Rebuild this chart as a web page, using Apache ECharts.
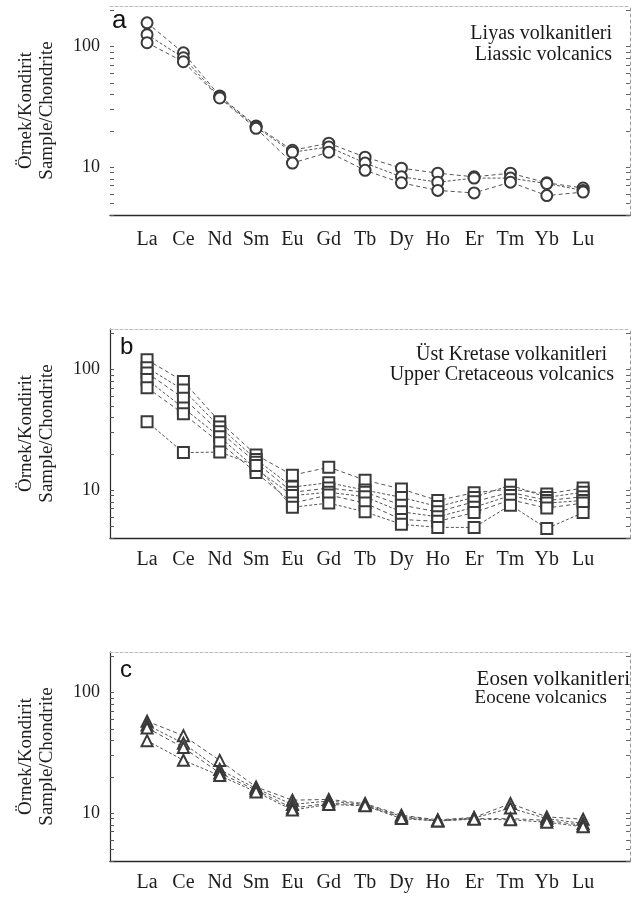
<!DOCTYPE html>
<html>
<head>
<meta charset="utf-8">
<script src="https://cdn.jsdelivr.net/npm/echarts@6/dist/echarts.min.js"></script>
<style>
  html, body { margin: 0; padding: 0; background: #fff; }
  #chart { width: 640px; height: 902px; }
</style>
</head>
<body>
<div id="chart"></div>
<script>
// Rare earth elements, chondrite-normalised
const categories = ['La', 'Ce', 'Nd', 'Sm', 'Eu', 'Gd', 'Tb', 'Dy', 'Ho', 'Er', 'Tm', 'Yb', 'Lu'];

// Tick positions on the logarithmic axes
const logTickValues = [4, 5, 6, 7, 8, 9, 10, 20, 30, 40, 50, 60, 70, 80, 90, 100, 200];
const logLabelValues = [10, 100];

// (a) Liassic volcanics
const liassic1 = [158, 89, 39, 22, 13.8, 15.8, 12.1, 9.8, 8.9, 8.3, 8.9, 7.4, 6.7];
const liassic2 = [126, 81, 38, 21.5, 13.3, 14.7, 10.8, 8.3, 7.5, 8.1, 8.1, 7.3, 6.4];
const liassic3 = [108, 75, 37.5, 21, 10.8, 13.3, 9.4, 7.4, 6.4, 6.1, 7.5, 5.8, 6.2];

// (b) Upper Cretaceous volcanics
const cretaceous1 = [121, 80, 37, 19.6, 13.3, 15.5, 12.1, 10.2, 8.2, 9.5, 10.2, 9.3, 10.4];
const cretaceous2 = [104, 68, 33.5, 18, 10.6, 11.5, 10, 8.7, 7.3, 8.7, 11, 8.7, 9.6];
const cretaceous3 = [94, 58, 30.5, 17, 9.6, 10.4, 9.6, 7.5, 6.6, 8.0, 9.6, 8.2, 8.8];
const cretaceous4 = [83, 48, 27.7, 15, 9.0, 9.6, 8.8, 6.6, 6.0, 7.2, 9.0, 7.8, 8.2];
const cretaceous5 = [71, 43, 24.7, 14, 7.8, 9.1, 7.8, 5.7, 5.5, 6.5, 8.3, 7.1, 7.8];
const cretaceous6 = [37, 20.5, 20.7, 16, 7.2, 7.8, 6.6, 5.2, 4.9, 4.9, 7.5, 4.8, 6.5];

// (c) Eocene volcanics
const eocene1 = [58, 44, 27.4, 16.5, 12.8, 13, 12, 9.6, 8.8, 9.2, 12, 9.3, 8.9];
const eocene2 = [54, 38, 23, 16, 11.8, 12.6, 11.8, 9.4, 8.7, 9.1, 11, 9.0, 8.2];
const eocene3 = [51, 35, 21.5, 15.5, 11.0, 12.1, 11.6, 9.2, 8.6, 9.0, 9.0, 8.7, 7.9];
const eocene4 = [40, 27.5, 20.5, 15, 10.6, 11.8, 11.5, 9.0, 8.6, 8.9, 8.8, 8.4, 7.7];

const SERIF = '"Liberation Serif", "Times New Roman", serif';
const SANS = '"Liberation Sans", Arial, sans-serif';
const INK = '#2a2a2a';

const panels = [
  { top: 6,   letter: 'a', symbol: 'emptyCircle',   size: 11,
    lines: [liassic1, liassic2, liassic3],
    note: ['Liyas volkanitleri', 'Liassic volcanics'], noteRight: [28, 28], noteY: [36, 57], noteSize: [20, 20],
    leftLine: false, labelMargin: 15 },
  { top: 329, letter: 'b', symbol: 'emptyRect',     size: 11,
    lines: [cretaceous1, cretaceous2, cretaceous3, cretaceous4, cretaceous5, cretaceous6],
    note: ['Üst Kretase volkanitleri', 'Upper Cretaceous volcanics'], noteRight: [33, 26], noteY: [357, 377], noteSize: [20, 20],
    leftLine: true, labelMargin: 12 },
  { top: 652, letter: 'c', symbol: 'emptyTriangle', size: 11,
    lines: [eocene1, eocene2, eocene3, eocene4],
    note: ['Eosen volkanitleri', 'Eocene volcanics'], noteRight: [10, 33], noteY: [682, 700], noteSize: [21, 19],
    leftLine: true, labelMargin: 12 }
];

const grid = [], xAxis = [], yAxis = [], series = [], graphic = [];

panels.forEach((p, k) => {
  grid.push({ left: 110, top: p.top, width: 520, height: 209 });

  // bottom axis carrying the element names
  xAxis.push({
    type: 'value', gridIndex: k, min: -1.02, max: 13.29, position: 'bottom',
    splitLine: { show: false },
    axisLine: { show: true, onZero: false, lineStyle: { color: INK, width: 1.3 } },
    axisTick: { show: false },
    axisLabel: {
      customValues: categories.map((c, i) => i),
      formatter: v => categories[Math.round(v)] || '',
      fontFamily: SERIF, fontSize: 20, color: '#1e1e1e', margin: p.labelMargin
    }
  });
  // faint top frame line
  xAxis.push({
    type: 'value', gridIndex: k, min: -1.02, max: 13.29, position: 'top',
    splitLine: { show: false },
    axisLine: { show: true, onZero: false, lineStyle: { color: '#bbb', width: 1, type: [3, 2] } },
    axisTick: { show: false }, axisLabel: { show: false }
  });

  // left logarithmic axis
  yAxis.push({
    type: 'log', logBase: 10, gridIndex: k, min: 4, max: 218, position: 'left',
    name: 'Örnek/Kondirit\nSample/Chondrite', nameLocation: 'middle', nameRotate: 90, nameGap: 52,
    nameTextStyle: { fontFamily: SERIF, fontSize: 19, lineHeight: 21, color: '#1e1e1e' },
    splitLine: { show: false },
    axisLine: { show: p.leftLine, onZero: false, lineStyle: { color: INK, width: 1.2 } },
    axisTick: { show: true, inside: true, length: 4, customValues: logTickValues, lineStyle: { color: '#555' } },
    axisLabel: { customValues: logLabelValues, fontFamily: SERIF, fontSize: 18, color: '#1e1e1e', margin: 10 }
  });
  // right frame axis
  yAxis.push({
    type: 'log', logBase: 10, gridIndex: k, min: 4, max: 218, position: 'right',
    splitLine: { show: false },
    axisLine: { show: true, onZero: false, lineStyle: { color: '#999', width: 1, type: [3, 3] } },
    axisTick: { show: true, inside: true, length: 4, customValues: logTickValues, lineStyle: { color: '#666' } },
    axisLabel: { show: false }
  });

  p.lines.forEach((vals, j) => {
    series.push({
      type: 'line', xAxisIndex: 2 * k, yAxisIndex: 2 * k,
      data: vals.map((v, i) => [i, v]),
      symbol: p.symbol, symbolSize: p.size,
      lineStyle: { color: '#555', width: 1, type: j % 2 ? [3, 2] : [4, 3] },
      itemStyle: { color: '#3a3a3a', borderWidth: 1.1 },
      z: 3, silent: true, animation: false
    });
  });

  graphic.push({
    type: 'text', left: p.letter === 'a' ? 112 : 120, top: p.top + (p.letter === 'a' ? 2 : 6),
    style: { text: p.letter, font: (p.letter === 'a' ? '26px ' : '24px ') + SANS, fill: '#111' }
  });
  p.note.forEach((t, i) => {
    graphic.push({
      type: 'text', right: p.noteRight[i], top: p.noteY[i] - p.noteSize[i] * 0.6,
      style: { text: t, font: p.noteSize[i] + 'px ' + SERIF, fill: '#1a1a1a' }
    });
  });
});

const chart = echarts.init(document.getElementById('chart'), null, { renderer: 'canvas' });
chart.setOption({ animation: false, grid, xAxis, yAxis, series, graphic });
</script>
</body>
</html>
